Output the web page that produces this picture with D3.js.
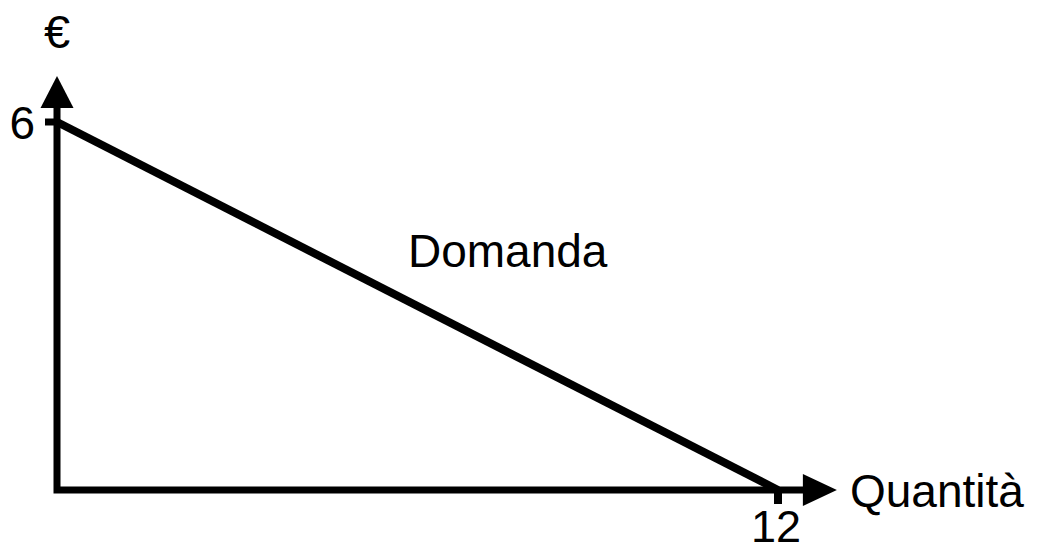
<!DOCTYPE html>
<head>
<style>
    body { margin: 0; background: white; }
    text { font-family: "Liberation Sans", Arial, sans-serif; fill: black; }
</style>
</head>

<body>
    <svg id="container" width="1038" height="552"></svg>
</body>

<script src="https://d3js.org/d3.v7.min.js"></script>
<script>

    // demand curve: price 6 at quantity 0, quantity 12 at price 0
    let quantities = [0, 12]
    let prices = [6, 0]
    let xTicks = [12]
    let yTicks = [6]

    let svg = d3.select("#container")

    let x = d3.scaleLinear().domain([0, 12]).range([57, 778])
    let y = d3.scaleLinear().domain([0, 6]).range([490, 122])

    let xEnd = x(12.98)
    let yEnd = y(6.75)

    // axes
    svg.append("path")
        .attr("d", `M${x(0)},${y(6.72) + 33} L${x(0)},${y(0)} L${xEnd - 33},${y(0)}`)
        .attr("fill", "none")
        .attr("stroke", "black")
        .attr("stroke-width", 7)
        .attr("stroke-linejoin", "miter")
        .attr("stroke-linecap", "square")

    // arrow heads
    svg.append("path")
        .attr("d", `M${x(0)},${yEnd} L${x(0) - 16.5},${yEnd + 32} L${x(0) + 16.5},${yEnd + 32} Z`)
        .attr("fill", "black")
    svg.append("path")
        .attr("d", `M${xEnd},${y(0)} L${xEnd - 34},${y(0) - 16} L${xEnd - 34},${y(0) + 16} Z`)
        .attr("fill", "black")

    // ticks
    svg.selectAll(".ytick")
        .data(yTicks)
        .enter()
        .append("line")
        .attr("x1", x(0) - 12).attr("x2", x(0))
        .attr("y1", d => y(d)).attr("y2", d => y(d))
        .attr("stroke", "black")
        .attr("stroke-width", 7)
    svg.selectAll(".xtick")
        .data(xTicks)
        .enter()
        .append("line")
        .attr("x1", d => x(d)).attr("x2", d => x(d))
        .attr("y1", y(0)).attr("y2", y(0) + 14)
        .attr("stroke", "black")
        .attr("stroke-width", 8)

    // demand line
    let line = d3.line()
        .x((d, i) => x(quantities[i]))
        .y((d, i) => y(prices[i]))
    svg.append("path")
        .attr("d", line(prices))
        .attr("fill", "none")
        .attr("stroke", "black")
        .attr("stroke-width", 8)

    // labels
    svg.selectAll(".ylabel")
        .data(yTicks)
        .enter()
        .append("text")
        .attr("x", x(0) - 22)
        .attr("y", d => y(d) + 17)
        .attr("text-anchor", "end")
        .attr("font-size", 46)
        .text(d => d)
    svg.selectAll(".xlabel")
        .data(xTicks)
        .enter()
        .append("text")
        .attr("x", d => x(d) - 2)
        .attr("y", y(0) + 52)
        .attr("text-anchor", "middle")
        .attr("font-size", 45)
        .text(d => d)

    svg.append("text")
        .attr("x", x(0))
        .attr("y", 48)
        .attr("text-anchor", "middle")
        .attr("font-size", 47)
        .text("€")

    svg.append("text")
        .attr("x", 850)
        .attr("y", y(0) + 17)
        .attr("font-size", 46)
        .text("Quantità")

    svg.append("text")
        .attr("x", 408)
        .attr("y", 267)
        .attr("font-size", 46)
        .text("Domanda")

</script>
